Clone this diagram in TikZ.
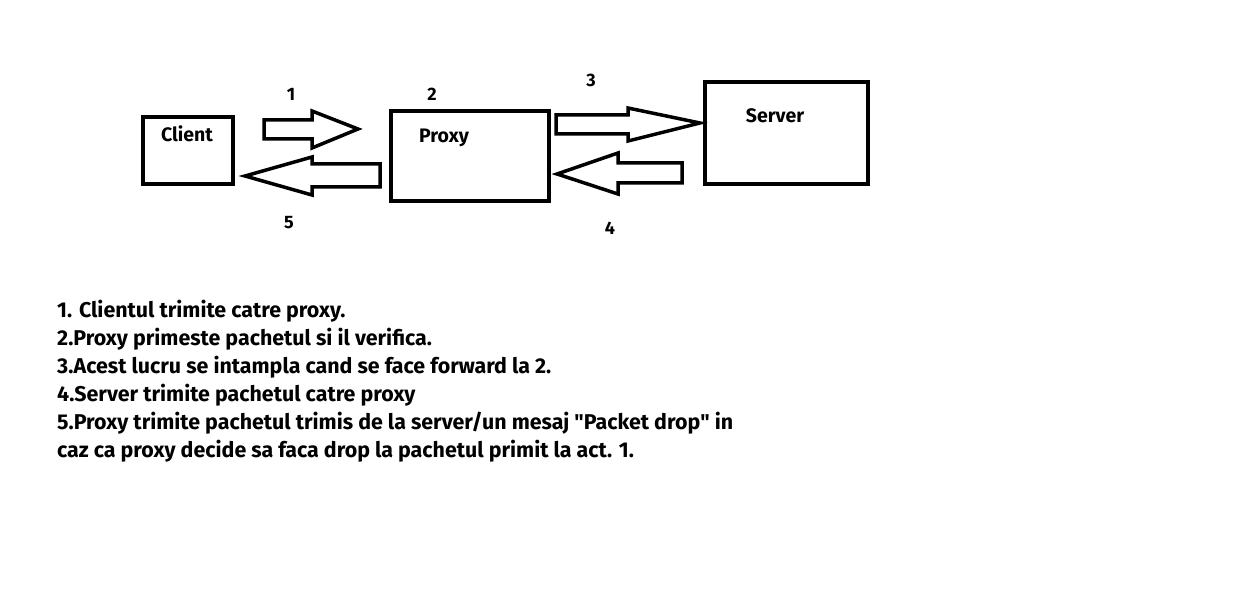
\documentclass[tikz,border=0pt]{standalone}
\usepackage{fontspec}
\setmainfont{Fira Sans}[UprightFont=* Bold]
\newfontfamily\qfont{Fira Sans}[UprightFont=* Bold]
\newcommand{\dq}{{\qfont"}}
\begin{document}
\begin{tikzpicture}[x=1pt,y=-1pt,
  box/.style={draw,line width=4pt},
  blk/.style={draw,line width=3.5pt,line join=miter},
  lbl/.style={font=\fontsize{19.5}{22}\selectfont,inner sep=0pt,anchor=base},
  num/.style={font=\fontsize{18}{20}\selectfont,inner sep=0pt,anchor=base},
  desc/.style={font=\fontsize{21.4}{28}\selectfont,inner sep=0pt,anchor=base west,align=left}]
\useasboundingbox[fill=white] (0,0) rectangle (1251,615);
% boxes
\draw[box] (143,117) rectangle (233,184);
\draw[box] (391,111) rectangle (549,201);
\draw[box] (705,82) rectangle (868,184);
\node[lbl] (client) at (187,142) {Client};
\node[lbl] (proxy) at (444,143) {Proxy};
\node[lbl] (server) at (775,123) {Server};
% block arrows
\draw[blk] (264,120) -- (312,120) -- (312,111) -- (358,129) -- (312,148) -- (312,139) -- (264,139) -- cycle;
\draw[blk] (380,164) -- (312,164) -- (312,157) -- (245,176) -- (312,195) -- (312,187) -- (380,187) -- cycle;
\draw[blk] (556,115) -- (628,115) -- (628,108) -- (700,123) -- (628,141) -- (628,134) -- (556,134) -- cycle;
\draw[blk] (682,163) -- (618,163) -- (618,153) -- (557,174) -- (618,194) -- (618,183) -- (682,183) -- cycle;
% numbers
\node[num] (n1) at (291,101) {1};
\node[num] (n2) at (432,101) {2};
\node[num] (n3) at (591,87) {3};
\node[num] (n4) at (610,234) {4};
\node[num] (n5) at (289,229) {5};
% description
\node[desc] (text) at (57,457) {1. Clientul trimite catre proxy.\\
2.Proxy primeste pachetul si il verifica.\\
3.Acest lucru se intampla cand se face forward la 2.\\
4.Server trimite pachetul catre proxy\\
5.Proxy trimite pachetul trimis de la server/un mesaj \dq Packet drop\dq{} in\\
caz ca proxy decide sa faca drop la pachetul primit la act. 1.};
\end{tikzpicture}
\end{document}
